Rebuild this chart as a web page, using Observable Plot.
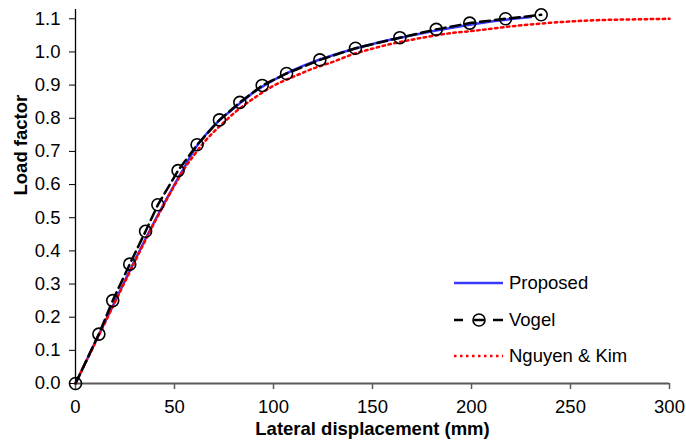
<!DOCTYPE html>
<html><head><meta charset="utf-8">
<script src="https://cdn.jsdelivr.net/npm/d3@7"></script>
<script src="https://cdn.jsdelivr.net/npm/@observablehq/plot@0.6"></script>
<style>
body{margin:0;background:#fff;}
#wrap{position:relative;width:686px;height:445px;font-family:"Liberation Sans",Arial,sans-serif;}
#legend{position:absolute;left:454px;top:264.5px;font-size:18.5px;color:#000;}
.row{display:flex;align-items:center;height:36.7px;white-space:nowrap;}
.row svg{margin-right:5px;display:block;}
</style></head><body><div id="wrap"><div id="legend"></div></div>
<script>
// Series names and colors
const seriesNames = ["Proposed", "Vogel", "Nguyen & Kim"];
const seriesColors = ["#3838ff", "#000000", "#ff0000"];

// Proposed (blue solid)
const proposedX = [0, 10, 20, 30, 40, 50, 55, 60, 65, 70, 75, 80, 90, 100, 110, 120, 130, 140, 150, 160, 170, 180, 190, 200, 210, 220, 230];
const proposedY = [0, 0.125, 0.249, 0.372, 0.49, 0.6, 0.652, 0.705, 0.745, 0.778, 0.806, 0.83, 0.878, 0.915, 0.945, 0.97, 0.99, 1.008, 1.024, 1.038, 1.05, 1.062, 1.073, 1.083, 1.092, 1.099, 1.105];

// Vogel (black dashed with circles)
const vogelX = [0, 11.8, 18.8, 27.4, 35.4, 41.6, 51.8, 61.4, 72.7, 83.0, 94.3, 106.6, 123.4, 141.4, 163.8, 182.2, 199.1, 217.2, 235.2];
const vogelY = [0, 0.149, 0.25, 0.36, 0.459, 0.539, 0.642, 0.72, 0.795, 0.848, 0.899, 0.935, 0.976, 1.011, 1.043, 1.068, 1.087, 1.1, 1.112];

// Nguyen & Kim (red dotted)
const nguyenX = [0, 10, 20, 30, 40, 50, 55, 60, 65, 70, 75, 80, 90, 100, 110, 120, 130, 140, 150, 160, 170, 180, 190, 200, 210, 220, 230, 240, 250, 260, 270, 280, 290, 300];
const nguyenY = [0, 0.123, 0.246, 0.368, 0.487, 0.597, 0.648, 0.69, 0.728, 0.76, 0.788, 0.815, 0.86, 0.898, 0.925, 0.95, 0.97, 0.993, 1.01, 1.025, 1.037, 1.048, 1.057, 1.063, 1.07, 1.077, 1.083, 1.088, 1.092, 1.095, 1.097, 1.098, 1.099, 1.1];

// Ticks and titles
const xTicks = [0, 50, 100, 150, 200, 250, 300];
const yTicks = [0, 0.1, 0.2, 0.3, 0.4, 0.5, 0.6, 0.7, 0.8, 0.9, 1.0, 1.1];
const xTitle = "Lateral displacement (mm)";
const yTitle = "Load factor";

const proposed = proposedX.map((x, i) => ({x, y: proposedY[i]}));
const vogel = vogelX.map((x, i) => ({x, y: vogelY[i]}));
const nguyen = nguyenX.map((x, i) => ({x, y: nguyenY[i]}));

const plot = Plot.plot({
  width: 686, height: 445,
  marginTop: 9, marginRight: 17, marginBottom: 62, marginLeft: 75,
  style: {fontFamily: '"Liberation Sans", Arial, sans-serif', fontSize: "18.5px", color: "#000", background: "#fff", overflow: "visible"},
  x: {domain: [0, 300]},
  y: {domain: [0, 1.128]},
  marks: [
    Plot.axisX({ticks: xTicks, tickSize: 6, tickPadding: 10, label: null, stroke: "#595959", strokeWidth: 1.5}),
    Plot.axisY({ticks: yTicks, tickFormat: d3.format(".1f"), tickSize: 6, tickPadding: 9, label: null, stroke: "#000"}),
    Plot.ruleY([0], {stroke: "#595959", strokeWidth: 2}),
    Plot.ruleX([0], {stroke: "#000", strokeWidth: 1.3}),
    Plot.line(proposed, {x: "x", y: "y", stroke: seriesColors[0], strokeWidth: 2.5, curve: "monotone-x"}),
    Plot.line(nguyen, {x: "x", y: "y", stroke: seriesColors[2], strokeWidth: 2.5, strokeDasharray: "2.5,3.5", curve: "monotone-x"}),
    Plot.line(vogel, {x: "x", y: "y", stroke: seriesColors[1], strokeWidth: 2.5, strokeDasharray: "10,5"}),
    Plot.dot(vogel, {x: "x", y: "y", r: 6, stroke: "#000", strokeWidth: 1.6, fill: "none"}),
    Plot.text([xTitle], {frameAnchor: "bottom", dy: 51, fontWeight: "bold", fontSize: 18.5}),
    Plot.text([yTitle], {frameAnchor: "left", dx: -54, dy: -1, rotate: -90, fontWeight: "bold", fontSize: 18.5})
  ]
});
document.getElementById("wrap").prepend(plot);

// Legend
const legend = d3.select("#legend");
seriesNames.forEach((name, i) => {
  const row = legend.append("div").attr("class", "row");
  const svg = row.append("svg").attr("width", 50).attr("height", 16);
  if (i === 0) {
    svg.append("line").attr("x1", 0).attr("x2", 49).attr("y1", 8).attr("y2", 8).attr("stroke", seriesColors[0]).attr("stroke-width", 2.5);
  } else if (i === 1) {
    svg.append("line").attr("x1", 0).attr("x2", 9).attr("y1", 8).attr("y2", 8).attr("stroke", "#000").attr("stroke-width", 2.5);
    svg.append("line").attr("x1", 20).attr("x2", 30).attr("y1", 8).attr("y2", 8).attr("stroke", "#000").attr("stroke-width", 2.5);
    svg.append("line").attr("x1", 39).attr("x2", 49).attr("y1", 8).attr("y2", 8).attr("stroke", "#000").attr("stroke-width", 2.5);
    svg.append("circle").attr("cx", 25).attr("cy", 8).attr("r", 6).attr("fill", "none").attr("stroke", "#000").attr("stroke-width", 1.6);
  } else {
    svg.append("line").attr("x1", 0).attr("x2", 49).attr("y1", 8).attr("y2", 8).attr("stroke", seriesColors[2]).attr("stroke-width", 2.5).attr("stroke-dasharray", "2.5,3.5");
  }
  row.append("span").text(name);
});
</script>
</body></html>
